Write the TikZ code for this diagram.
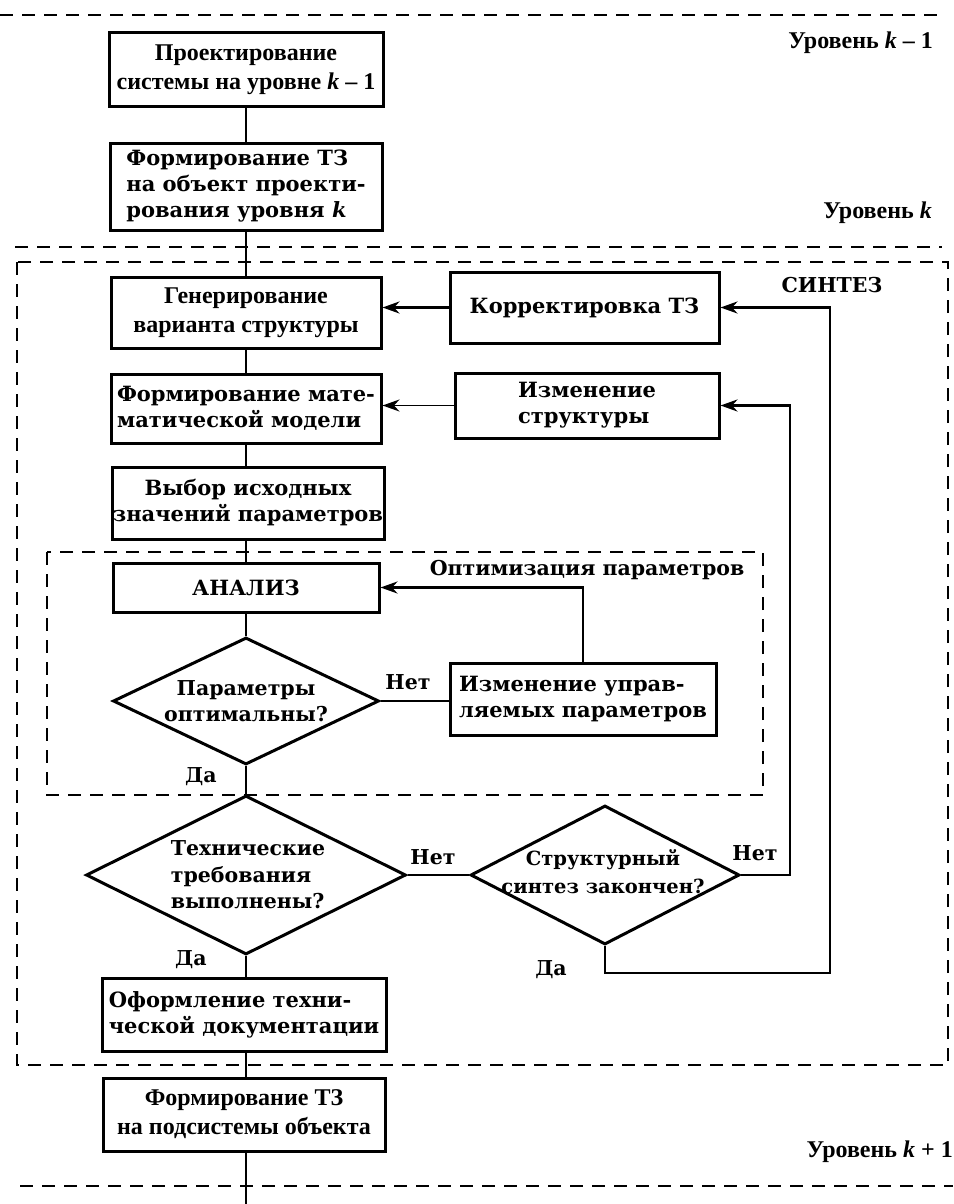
\documentclass[tikz,border=0pt]{standalone}
\usepackage{fontspec}
\setmainfont{DejaVu Serif}
\newfontfamily\tms{Liberation Serif}
\newfontfamily\sch{DejaVu Serif}
\usetikzlibrary{arrows.meta,shapes.geometric,calc}
\begin{document}
\begin{tikzpicture}[x=1pt,y=-1pt,
  box/.style={draw,line width=3pt,rectangle,inner sep=0pt},
  schtext/.style={font=\sch\bfseries\fontsize{21}{26}\selectfont},
  diatext/.style={font=\sch\bfseries\fontsize{20.5}{26.5}\selectfont,inner sep=0pt},
  tmstext/.style={font=\tms\bfseries\fontsize{24}{29}\selectfont},
  dia/.style={draw,line width=3pt,diamond,inner sep=0pt,aspect=1},
  conn/.style={line width=2.6pt},
  arr/.style={line width=2.6pt,-{Stealth[length=17pt,width=12pt]}},
  frame/.style={line width=2.1pt,dash pattern=on 13pt off 9pt},
  lab/.style={font=\sch\bfseries\fontsize{20.5}{24}\selectfont,inner sep=0pt},
  lvl/.style={anchor=east,inner sep=0pt,font=\tms\bfseries\fontsize{24}{28}\selectfont}
]
\useasboundingbox (0,0) rectangle (953,1204);
\fill[white] (0,0) rectangle (953,1204);

% level separators and frames
\draw[frame] (0,15) -- (945,15);
\draw[frame] (15,247) -- (942,247);
\draw[frame] (17,262) rectangle (948,1065);
\draw[frame] (47,552) rectangle (763,795);
\draw[frame] (20,1186) -- (953,1186);

% level labels
\node[lvl] (lv1) at (933,43) {Уровень \textit{k} – 1};
\node[lvl] (lv2) at (932,213) {Уровень \textit{k}};
\node[lvl] (lv3) at (953,1152) {Уровень \textit{k} + 1};
\node[lab] (syn) at (832,285) {СИНТЕЗ};
\node[lab] (opt) at (587,570) {Оптимизация параметров};

% main column
\node[box,tmstext,minimum width=274pt,minimum height=74pt,align=center] (b1) at (246,70)
  {Проектирование\\системы на уровне \textit{k} – 1};
\node[box,schtext,minimum width=272pt,minimum height=87pt,align=left] (b2) at (246,186.5)
  {Формирование ТЗ\\на объект проекти-\\рования уровня \textit{k}};
\node[box,tmstext,minimum width=270pt,minimum height=71pt,align=center] (gen) at (246,312.5)
  {Генерирование\\варианта структуры};
\node[box,schtext,minimum width=270pt,minimum height=69pt,align=left] (fmm) at (246,408.5)
  {Формирование мате-\\матической модели};
\node[box,schtext,minimum width=272pt,minimum height=72pt,align=center] (vyb) at (248,503)
  {Выбор исходных\\значений параметров};
\node[box,schtext,minimum width=266pt,minimum height=49pt] (an) at (246,587.5) {АНАЛИЗ};
\node[dia,minimum width=266pt,minimum height=127pt] (d1) at (246,701) {};
\node[diatext,align=center] (d1t) at (246,701) {Параметры\\оптимальны?};
\node[dia,minimum width=320pt,minimum height=159pt] (d2) at (246,875) {};
\node[diatext,align=left] (d2t) at (248,875) {Технические\\требования\\выполнены?};
\node[box,schtext,minimum width=284pt,minimum height=73pt,align=left] (of) at (244,1014.5)
  {Оформление техни-\\ческой документации};
\node[box,tmstext,minimum width=282pt,minimum height=73pt,align=center] (fp) at (244,1114.5)
  {Формирование ТЗ\\на подсистемы объекта};
\coordinate (bot) at (246,1204);

% right column
\node[box,schtext,minimum width=269pt,minimum height=71pt] (kor) at (584.5,307.5) {Корректировка ТЗ};
\node[box,schtext,minimum width=264pt,minimum height=65pt,align=left] (izs) at (587,405.5)
  {Изменение\\структуры};
\node[box,schtext,minimum width=266pt,minimum height=72pt,align=left] (izu) at (583,699)
  {Изменение управ-\\ляемых параметров};
\node[dia,minimum width=269pt,minimum height=139pt] (d3) at (605,875) {};
\node[diatext,font=\sch\bfseries\fontsize{19.5}{28}\selectfont,align=center] (d3t) at (603,872) {Структурный\\синтез закончен?};

\coordinate (r1) at (790,875);
\coordinate (r2) at (830,973);

% main connectors
\draw[conn] (b1.south) -- (b1.south |- b2.north);
\draw[conn] (b2.south) -- (b2.south |- gen.north);
\draw[conn] (gen.south) -- (gen.south |- fmm.north);
\draw[conn] (fmm.south) -- (fmm.south |- vyb.north);
\draw[conn] (an.north |- vyb.south) -- (an.north);
\draw[conn] (an.south) -- (d1.north);
\draw[conn] (d1.south) -- (d2.north);
\draw[conn] (d2.south) -- (d2.south |- of.north);
\draw[conn] (d2.south |- of.south) -- (d2.south |- fp.north);
\draw[conn] (d2.south |- fp.south) -- (bot);

% feedback connectors
\draw[arr] (kor.west) -- (kor.west -| gen.east);
\draw[arr,line width=1.8pt] (izs.west) -- (izs.west -| fmm.east);
\draw[conn] (d1.east) -- (d1.east -| izu.west);
\draw[arr] (izu.north) |- (an.east);
\draw[conn] (d2.east) -- (d3.west);
\draw[arr] (d3.east) -- (r1) -- (r1 |- izs.east) -- (izs.east);
\draw[arr] (d3.south) -- (d3.south |- r2) -- (r2) -- (r2 |- kor.east) -- (kor.east);

% branch labels
\node[lab] (n1) at (408,682) {Нет};
\node[lab] (y1) at (201,777) {Да};
\node[lab] (n2) at (433,857) {Нет};
\node[lab] (y2) at (191,960) {Да};
\node[lab] (n3) at (755,853) {Нет};
\node[lab] (y3) at (551,970) {Да};
\end{tikzpicture}
\end{document}
